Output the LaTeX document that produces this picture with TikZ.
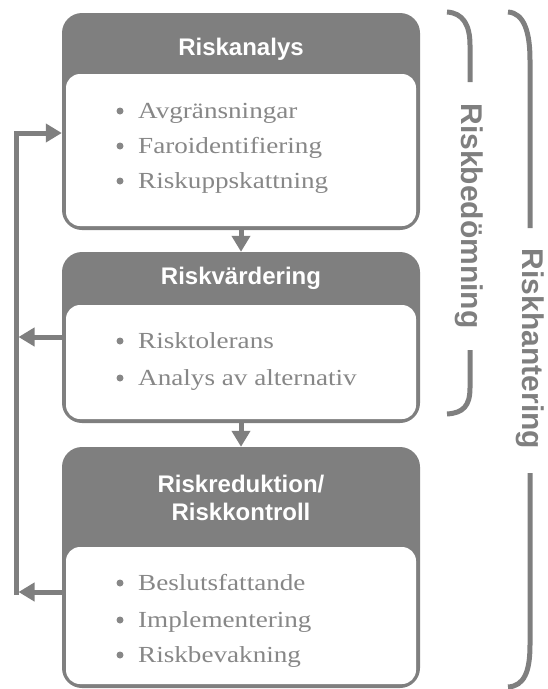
\documentclass[tikz,border=0pt]{standalone}
\usepackage{fontspec}
\setmainfont{Liberation Serif}
\newfontfamily\headfont{Liberation Sans}
\newfontfamily\itemfont[FakeStretch=1.18]{Liberation Serif}
\usetikzlibrary{arrows.meta}
\definecolor{boxgray}{HTML}{7F7F7F}
\definecolor{textgray}{HTML}{878787}

\begin{document}
\begin{tikzpicture}[x=1pt,y=-1pt,
  panel/.style={fill=boxgray, rounded corners=20pt, inner sep=0pt, draw=none},
  sheet/.style={fill=white, rounded corners=14pt, inner sep=0pt, draw=none, minimum width=350pt},
  title/.style={text=white, font=\headfont\bfseries\fontsize{24}{28}\selectfont, anchor=base, inner sep=0pt},
  item/.style={text=textgray, font=\itemfont\fontsize{23}{28}\selectfont, anchor=base west, inner sep=0pt},
  dot/.style={circle, fill=textgray, minimum size=7pt, inner sep=0pt},
  flow/.style={draw=boxgray, line width=5pt, -{Triangle[width=18pt,length=16pt]}},
  brace/.style={draw=boxgray, line width=5pt},
  side/.style={text=boxgray, font=\headfont\bfseries\fontsize{30}{35}\selectfont, rotate=-90, inner sep=0pt}
]
\useasboundingbox (0,0) rectangle (547,689);

% --- panels ---
\node[panel, minimum width=358pt, minimum height=217pt] (p1) at (241,121.5) {};
\node[sheet, minimum height=152pt] (s1) at (241,150) {};
\node[panel, minimum width=358pt, minimum height=171pt] (p2) at (241,337.5) {};
\node[sheet, minimum height=114pt] (s2) at (241,362) {};
\node[panel, minimum width=358pt, minimum height=241pt] (p3) at (241,567.5) {};
\node[sheet, minimum height=137pt] (s3) at (241,615.5) {};

% --- titles ---
\node[title] (t1) at (241,55) {Riskanalys};
\node[title] (t2) at (241,284) {Riskvärdering};
\node[title] (t3a) at (241,492) {Riskreduktion/};
\node[title] (t3b) at (241,520) {Riskkontroll};

% --- bullet items ---
\node[dot] (d11) at (120,111) {};
\node[item] (i11) at (138,118) {Avgränsningar};
\node[dot] (d12) at (120,146) {};
\node[item] (i12) at (138,153) {Faroidentifiering};
\node[dot] (d13) at (120,181) {};
\node[item] (i13) at (138,188) {Riskuppskattning};

\node[dot] (d21) at (120,341) {};
\node[item] (i21) at (138,348) {Risktolerans};
\node[dot] (d22) at (120,378) {};
\node[item] (i22) at (138,385) {Analys av alternativ};

\node[dot] (d31) at (120,583) {};
\node[item] (i31) at (138,590) {Beslutsfattande};
\node[dot] (d32) at (120,620) {};
\node[item] (i32) at (138,627) {Implementering};
\node[dot] (d33) at (120,655) {};
\node[item] (i33) at (138,662) {Riskbevakning};

% --- downward flow ---
\draw[flow] (p1.south) -- (p2.north);
\draw[flow] (p2.south) -- (p3.north);

% --- feedback loop on the left ---
\coordinate (lt) at (16,133);
\coordinate (lb) at (16,594.5);
\coordinate (r2) at (18.5,337);
\coordinate (r3) at (18.5,592);
\draw[flow] (lb) -- (lt) -- (lt -| p1.west);
\draw[flow] (r2 -| p2.west) -- (r2);
\draw[flow] (r3 -| p3.west) -- (r3);

% --- brackets with side labels ---
\draw[brace] (447,12) .. controls (463,13) and (470,25) .. (470,45) -- (470,82);
\draw[brace] (470,350) -- (470,388) .. controls (470,406) and (463,413) .. (447,414);
\node[side] (rb) at (469,216) {Riskbedömning};

\draw[brace] (508,12) .. controls (524,13) and (530,32) .. (530,60) -- (530,228);
\draw[brace] (530,473) -- (530,645) .. controls (530,672) and (524,686) .. (508,687);
\node[side] (rh) at (530,349) {Riskhantering};
\end{tikzpicture}
\end{document}
